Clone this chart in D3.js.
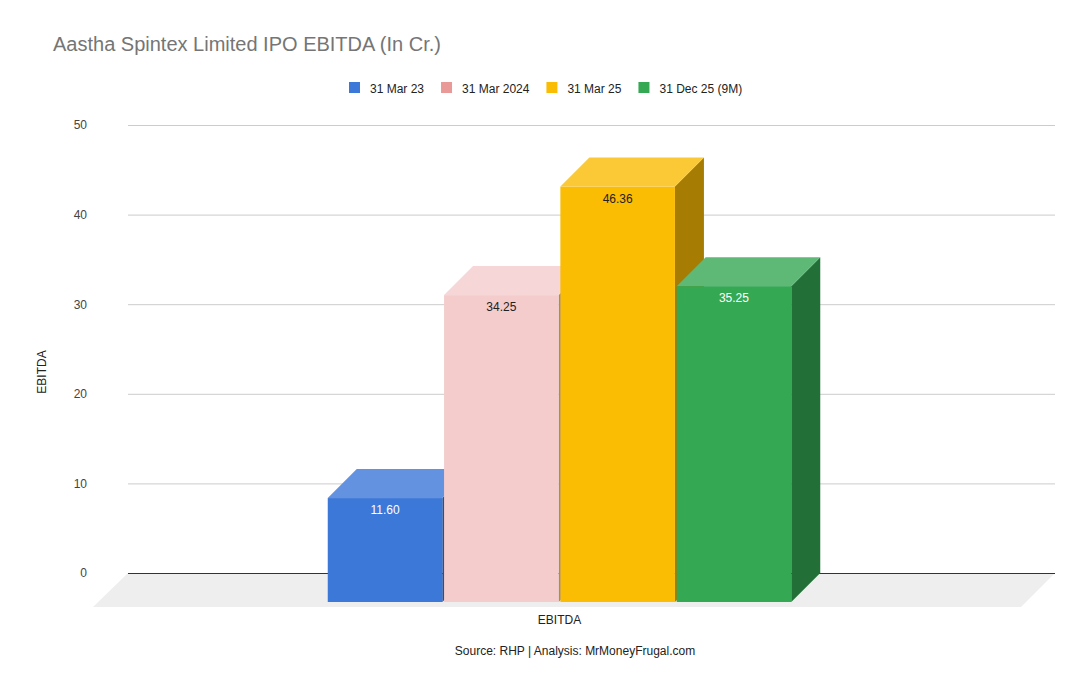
<!DOCTYPE html>
<html>
<head>
<meta charset="utf-8">
<script src="https://cdn.jsdelivr.net/npm/d3@7"></script>
<style>
  body { margin: 0; background: #fff; }
  text { font-family: Arial, "Liberation Sans", sans-serif; }
</style>
</head>
<body>
<div class="chart"></div>
<script>
const categories = ["EBITDA"];
const seriesNames = ["31 Mar 23", "31 Mar 2024", "31 Mar 25", "31 Dec 25 (9M)"];
const seriesValues = [11.60, 34.25, 46.36, 35.25];
const yTicks = [0, 10, 20, 30, 40, 50];

// colours: front face, legend swatch, label colour
const frontColors = ["#3c78d8", "#f4cccc", "#fbbc04", "#34a853"];
const legendColors = ["#3c78d8", "#ea9999", "#fbbc04", "#34a853"];
const labelColors = ["#ffffff", "#222222", "#222222", "#ffffff"];

let w = 1090, h = 694;
let depth = 29; // 3d offset of the bars

let svg = d3.select('.chart').append('svg')
  .attr('width', w).attr('height', h);

// back plane
let y = d3.scaleLinear().domain([0, 50]).range([573, 125]);
let left = 128, right = 1055;

// front plane band scales
let x0 = d3.scaleBand().domain(categories).range([left - 32, right - 32])
  .paddingInner(0).paddingOuter(0.5);
let x1 = d3.scaleBand().domain(seriesNames).range([0, x0.bandwidth()])
  .paddingInner(0.015);

// title
svg.append('text')
  .attr('x', 53).attr('y', 51)
  .text('Aastha Spintex Limited IPO EBITDA (In Cr.)')
  .attr('font-size', '20px').attr('fill', '#757575');

// legend
let lx = 349;
seriesNames.forEach(function(s, i) {
  svg.append('rect').attr('x', lx).attr('y', 82).attr('width', 11).attr('height', 11)
    .attr('fill', legendColors[i]);
  let t = svg.append('text').attr('x', lx + 21).attr('y', 92.5).text(s)
    .attr('font-size', '12px').attr('fill', '#222');
  lx += 21 + t.node().getComputedTextLength() + 17;
});

// floor
svg.append('path')
  .attr('d', 'M' + left + ',' + y(0) + 'L' + right + ',' + y(0) +
    'L' + (right - 34) + ',' + (y(0) + 34) + 'L' + (left - 35) + ',' + (y(0) + 34) + 'Z')
  .attr('fill', '#eeeeee');

// gridlines
svg.selectAll('.grid').data(yTicks.filter(d => d > 0)).enter()
  .append('line')
  .attr('x1', left).attr('x2', right)
  .attr('y1', d => y(d) + 0.5).attr('y2', d => y(d) + 0.5)
  .attr('stroke', '#cccccc').attr('stroke-width', 1);

svg.append('line')
  .attr('x1', left).attr('x2', right)
  .attr('y1', y(0) + 0.5).attr('y2', y(0) + 0.5)
  .attr('stroke', '#333333').attr('stroke-width', 1);

// y axis labels
let yAxis = d3.axisLeft(y).tickValues(yTicks).tickSize(0).tickPadding(0);
let yg = svg.append('g').attr('transform', 'translate(87,0)').call(yAxis);
yg.select('.domain').remove();
yg.selectAll('text').attr('font-size', '12px').attr('fill', '#444')
  .attr('font-family', 'Arial, "Liberation Sans", sans-serif');

// bars
function lighter(c) { return d3.interpolateRgb(c, '#ffffff')(0.2); }
function darker(c) {
  let r = d3.rgb(c);
  return d3.rgb(r.r * 0.66, r.g * 0.66, r.b * 0.66).formatHex();
}

let yf = v => y(v) + depth; // front face y

seriesValues.forEach(function(v, i) {
  let s = seriesNames[i];
  let bx = x0(categories[0]) + x1(s);
  let bw = x1.bandwidth();
  let top = yf(v), bot = yf(0);
  let g = svg.append('g');
  // side
  g.append('path')
    .attr('d', 'M' + (bx + bw) + ',' + top + 'L' + (bx + bw + depth) + ',' + (top - depth) +
      'L' + (bx + bw + depth) + ',' + (bot - depth) + 'L' + (bx + bw) + ',' + bot + 'Z')
    .attr('fill', darker(frontColors[i]));
  // top
  g.append('path')
    .attr('d', 'M' + bx + ',' + top + 'L' + (bx + depth) + ',' + (top - depth) +
      'L' + (bx + bw + depth) + ',' + (top - depth) + 'L' + (bx + bw) + ',' + top + 'Z')
    .attr('fill', lighter(frontColors[i]));
  // front
  g.append('rect')
    .attr('x', bx).attr('y', top).attr('width', bw).attr('height', bot - top)
    .attr('fill', frontColors[i]);
  g.append('text')
    .attr('x', bx + bw / 2).attr('y', top + 16)
    .attr('text-anchor', 'middle')
    .text(v.toFixed(2))
    .attr('font-size', '12px').attr('fill', labelColors[i]);
});

// axis titles
svg.append('text')
  .attr('x', x0(categories[0]) + x0.bandwidth() / 2).attr('y', 624)
  .attr('text-anchor', 'middle').text(categories[0])
  .attr('font-size', '12px').attr('fill', '#222');

svg.append('text')
  .attr('transform', 'translate(46,372) rotate(-90)')
  .attr('text-anchor', 'middle').text('EBITDA')
  .attr('font-size', '12px').attr('fill', '#222');

svg.append('text')
  .attr('x', 575).attr('y', 655)
  .attr('text-anchor', 'middle').text('Source: RHP | Analysis: MrMoneyFrugal.com')
  .attr('font-size', '12px').attr('fill', '#222');
</script>
</body>
</html>
